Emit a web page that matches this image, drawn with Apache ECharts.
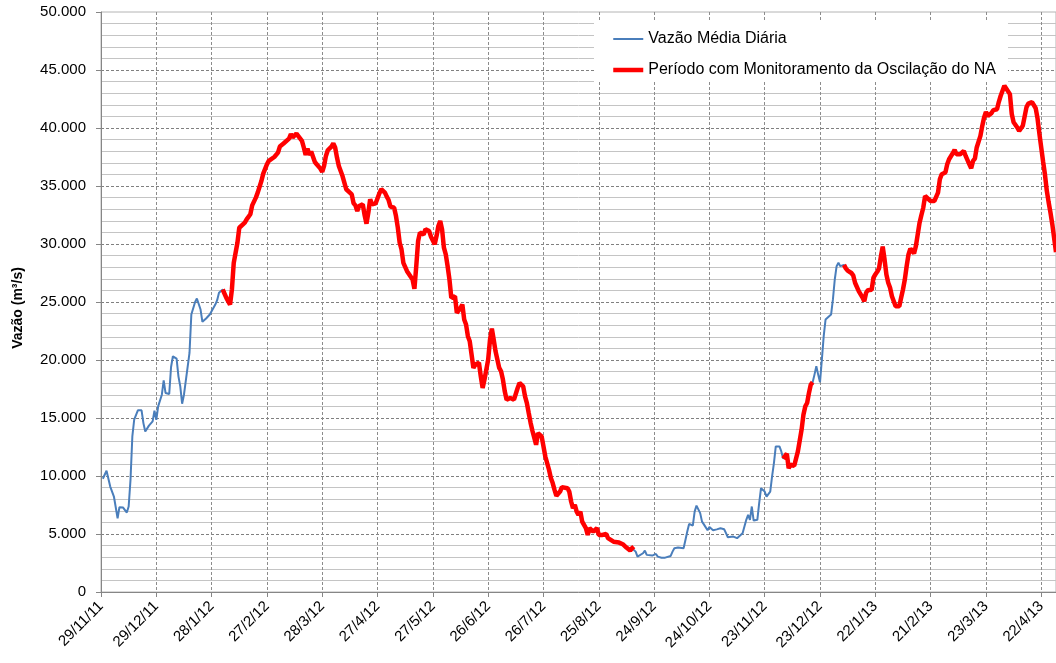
<!DOCTYPE html>
<html>
<head>
<meta charset="utf-8">
<title>Vazão Média Diária</title>
<script src="https://cdn.jsdelivr.net/npm/echarts@6/dist/echarts.min.js"></script>
<style>
    html, body { margin: 0; padding: 0; background: #fff; }
    #chart { width: 1056px; height: 663px; }
</style>
</head>
<body>
<div id="chart"></div>
<script>
// dias contados a partir de 29/11/2011
const tickLabels = ['29/11/11', '29/12/11', '28/1/12', '27/2/12', '28/3/12', '27/4/12', '27/5/12', '26/6/12',
    '26/7/12', '25/8/12', '24/9/12', '24/10/12', '23/11/12', '23/12/12', '22/1/13', '21/2/13', '23/3/13', '22/4/13'];

const days = [
    1, 3, 5, 7, 9, 10, 12, 14, 15, 16, 17, 18, 20, 22, 23, 24, 26, 28, 29, 30,
    31, 33, 34, 35, 37, 38, 39, 41, 42, 43, 44, 45, 46, 48, 49, 51, 52, 54, 55, 57,
    59, 60, 62, 63, 64, 66, 67, 68, 70, 71, 72, 74, 75, 76, 78, 79, 81, 82, 84, 85,
    87, 88, 89, 90, 91, 92, 94, 96, 97, 99, 100, 102, 103, 104, 105, 106, 107, 109, 110, 111,
    112, 113, 114, 115, 116, 117, 119, 120, 121, 122, 123, 125, 126, 127, 128, 129, 131, 132, 133, 134,
    136, 137, 138, 139, 140, 142, 143, 144, 145, 146, 147, 149, 150, 151, 152, 154, 155, 156, 157, 159,
    160, 161, 162, 163, 164, 166, 167, 169, 170, 171, 172, 173, 175, 176, 178, 179, 180, 181, 182, 183,
    184, 185, 186, 187, 188, 189, 190, 191, 192, 193, 194, 195, 196, 197, 198, 199, 200, 201, 202, 203,
    205, 206, 207, 208, 210, 211, 212, 213, 214, 215, 216, 217, 218, 219, 220, 221, 222, 224, 225, 226,
    227, 228, 229, 230, 231, 232, 233, 234, 236, 237, 238, 239, 240, 241, 243, 244, 245, 246, 247, 249,
    250, 251, 253, 254, 255, 256, 257, 258, 259, 260, 261, 262, 263, 264, 265, 267, 268, 269, 270, 271,
    272, 274, 275, 276, 278, 279, 281, 282, 283, 284, 285, 287, 288, 289, 290, 291, 292, 294, 295, 296,
    297, 299, 300, 301, 302, 304, 306, 307, 309, 310, 311, 312, 313, 314, 316, 317, 318, 319, 320, 321,
    322, 323, 324, 325, 326, 327, 329, 330, 331, 332, 334, 335, 336, 338, 339, 340, 341, 343, 345, 346,
    348, 349, 350, 351, 352, 353, 354, 356, 357, 358, 359, 360, 361, 362, 363, 364, 365, 366, 367, 368,
    369, 370, 371, 372, 373, 374, 376, 377, 378, 379, 380, 381, 382, 383, 384, 385, 386, 387, 388, 389,
    390, 391, 392, 393, 394, 396, 397, 398, 399, 400, 401, 402, 403, 404, 405, 406, 407, 408, 409, 410,
    411, 412, 413, 414, 415, 416, 417, 418, 419, 420, 421, 422, 423, 424, 425, 426, 427, 428, 429, 430,
    431, 432, 433, 434, 435, 436, 437, 438, 439, 440, 441, 442, 443, 444, 445, 446, 447, 448, 450, 452,
    453, 454, 455, 456, 457, 458, 459, 460, 462, 463, 464, 466, 467, 468, 469, 470, 471, 472, 473, 474,
    475, 477, 478, 479, 480, 481, 482, 483, 484, 486, 487, 488, 489, 490, 491, 493, 494, 495, 497, 498,
    499, 500, 501, 502, 503, 504, 505, 506, 507, 508, 509, 510, 511, 512, 513, 514, 515, 516, 517, 518
];

const vazao = [
    9760, 10450, 9090, 8230, 6360, 7310, 7280, 6850, 7370, 9670, 13410, 14850, 15660, 15660, 14560, 13840, 14340, 14710, 15630, 14850,
    16000, 17010, 18250, 17160, 17070, 19400, 20320, 20120, 18590, 17730, 16230, 17010, 17070, 20610, 23920, 24980, 25300, 24350, 23290, 23580,
    23920, 24070, 24780, 25160, 25800, 26080, 25940, 25360, 24780, 26080, 28380, 30110, 31400, 31400, 31840, 32120, 32560, 33330, 34000, 34430,
    35430, 36070, 36100, 36870, 37160, 37250, 37500, 37880, 38400, 38660, 38750, 39090, 39470, 39180, 39120, 39520, 39470, 38890, 38320, 37680,
    38230, 37680, 37970, 37800, 37070, 36870, 36500, 36210, 36730, 37590, 38080, 38400, 38660, 38320, 37450, 36730, 35860, 35290, 34720, 34860,
    34280, 33510, 33330, 32840, 33270, 33420, 32470, 31750, 32700, 33850, 33420, 33510, 33420, 34370, 34720, 34430, 34080, 33790, 33220, 33130,
    32410, 31400, 30110, 29530, 28380, 27660, 27520, 26940, 26140, 28090, 30250, 30980, 30830, 31260, 31110, 30630, 30540, 29970, 30680, 31550,
    31980, 31260, 29680, 29100, 28090, 26940, 25360, 25220, 25500, 24070, 23920, 24500, 24780, 23490, 23060, 22050, 21620, 21480, 19320, 19600,
    19750, 18590, 17590, 18310, 20030, 21760, 22700, 21760, 20750, 20610, 19320, 19030, 18310, 17300, 16580, 16490, 16730, 16580, 16730, 17590,
    18020, 18080, 17730, 16870, 16290, 15430, 14600, 13900, 12690, 13700, 13840, 13410, 12550, 11680, 10540, 9820, 9390, 8810, 8290, 8660,
    9040, 8950, 8950, 8660, 7800, 7230, 7510, 6930, 6650, 6930, 6070, 5930, 5500, 4920, 5500, 5210, 5350, 5500, 4920, 5070,
    4920, 5010, 4640, 4490, 4340, 4490, 4260, 4430, 4120, 4060, 3830, 3570, 3770, 3910, 3480, 3050, 3140, 3340, 3570, 3200,
    3140, 3140, 3140, 3280, 3050, 2960, 2960, 2960, 3110, 3480, 3770, 3770, 3830, 3710, 3770, 4490, 5210, 5870, 5990, 5730,
    6930, 7450, 7430, 6800, 6070, 5830, 5320, 5600, 5640, 5320, 5400, 5440, 5500, 5410, 5070, 4720, 4640, 4780, 4640, 4550,
    5070, 5210, 6220, 6650, 6220, 7370, 6160, 6220, 7660, 8950, 9040, 8660, 8230, 8090, 8660, 9960, 11110, 12550, 12550, 12550,
    12120, 11500, 11540, 11920, 10680, 10970, 10880, 10970, 12120, 12260, 13990, 15280, 16000, 16290, 17160, 17880, 18080, 18740, 19460, 18740,
    18080, 20030, 22050, 23490, 23630, 23920, 25220, 26940, 28090, 28380, 28090, 27950, 28200, 27900, 27700, 27600, 27500, 27300, 26660, 26720,
    25940, 25800, 25400, 25070, 25800, 26020, 26020, 26050, 27100, 27370, 27600, 27900, 28900, 29770, 28670, 27370, 26660, 26230, 25500, 25360,
    24640, 24580, 24640, 25360, 26080, 26940, 28090, 29100, 29590, 29530, 29190, 29820, 30830, 31840, 32500, 33130, 34140, 34280, 33700, 33700,
    33650, 34430, 35580, 36010, 36160, 36160, 36870, 37310, 37820, 38110, 37740, 37740, 37740, 38020, 37590, 37450, 36870, 36530, 37160, 37360,
    38320, 39320, 40180, 40900, 41390, 41050, 41110, 41280, 41540, 41620, 42260, 42780, 43210, 43640, 43500, 42920, 41200, 40500, 40040, 39750,
    39800, 40200, 41000, 41800, 42100, 42260, 42230, 42100, 41700, 40800, 39500, 38300, 37100, 36000, 34600, 33600, 32700, 31700, 30500, 29300
];

// períodos (em dias) com monitoramento da oscilação do NA
const monitoringPeriods = [[66, 289], [370, 386], [403, 518]];

document.addEventListener('DOMContentLoaded', function () {
    var chartDom = document.getElementById('chart');
    var myChart = echarts.init(chartDom);
    var option;

    const font = 'Liberation Sans, Arial, sans-serif';
    const blueName = 'Vazão Média Diária';
    const redName = 'Período com Monitoramento da Oscilação do NA';

    function inMonitoring(d) {
        return monitoringPeriods.some(p => d >= p[0] && d <= p[1]);
    }

    let flowData = [];
    let monitoringData = [];
    for (let i = 0; i < days.length; i++) {
        flowData.push([days[i], vazao[i]]);
        monitoringData.push([days[i], inMonitoring(days[i]) ? vazao[i] : '-']);
    }

    option = {
        animation: false,
        backgroundColor: '#fff',
        grid: {
            left: 101,
            right: 0,
            top: 12,
            bottom: 71,
            show: true,
            borderColor: '#b4b4b4',
            borderWidth: 1
        },
        legend: {
            orient: 'vertical',
            left: 594,
            top: 20,
            backgroundColor: '#fff',
            padding: [11, 12, 4, 17],
            itemWidth: 30,
            itemHeight: 14,
            itemGap: 15,
            selectedMode: false,
            // só a linha, sem o marcador
            itemStyle: { opacity: 0 },
            textStyle: { fontSize: 16, color: '#000', fontFamily: font },
            data: [
                { name: blueName, lineStyle: { width: 2 } },
                { name: redName, lineStyle: { width: 4.5 } }
            ]
        },
        xAxis: {
            type: 'value',
            min: 0,
            max: 518,
            interval: 30,
            axisLine: { lineStyle: { color: '#868686', width: 1 } },
            axisTick: { show: true, length: 5, lineStyle: { color: '#868686' } },
            axisLabel: {
                rotate: 45,
                margin: 12,
                fontSize: 15,
                color: '#000',
                fontFamily: font,
                showMaxLabel: false,
                formatter: function (value) {
                    if (value % 30 !== 0) return '';
                    return tickLabels[value / 30] || '';
                }
            },
            splitLine: {
                show: true,
                showMinLine: false,
                showMaxLine: false,
                lineStyle: { color: '#8c8c8c', type: [3, 2], width: 1 }
            }
        },
        yAxis: {
            type: 'value',
            min: 0,
            max: 50000,
            interval: 5000,
            name: 'Vazão (m³/s)',
            nameLocation: 'middle',
            nameGap: 76,
            nameTextStyle: {
                fontSize: 14,
                fontWeight: 'bold',
                color: '#000',
                fontFamily: font,
                padding: [0, 12, 0, 0]
            },
            axisLine: { show: true, lineStyle: { color: '#868686', width: 1 } },
            axisTick: { show: true, length: 5, lineStyle: { color: '#868686' } },
            axisLabel: {
                margin: 15,
                fontSize: 15,
                color: '#000',
                fontFamily: font,
                formatter: function (value) {
                    return String(value).replace(/\B(?=(\d{3})+(?!\d))/g, '.');
                }
            },
            minorTick: { show: false, splitNumber: 5 },
            minorSplitLine: { show: true, lineStyle: { color: '#c4c4c4', width: 1 } },
            splitLine: {
                show: true,
                showMinLine: false,
                showMaxLine: false,
                lineStyle: { color: '#808080', type: [3, 2], width: 1 }
            }
        },
        series: [
            {
                name: blueName,
                type: 'line',
                data: flowData,
                symbol: 'none',
                z: 2,
                itemStyle: { color: '#4a7ebb' },
                lineStyle: { color: '#4a7ebb', width: 2 }
            },
            {
                name: redName,
                type: 'line',
                data: monitoringData,
                symbol: 'none',
                z: 3,
                itemStyle: { color: '#ff0000' },
                lineStyle: { color: '#ff0000', width: 4.5 }
            }
        ]
    };

    option && myChart.setOption(option);

    window.addEventListener('resize', function () {
        myChart.resize();
    });
});
</script>
</body>
</html>
